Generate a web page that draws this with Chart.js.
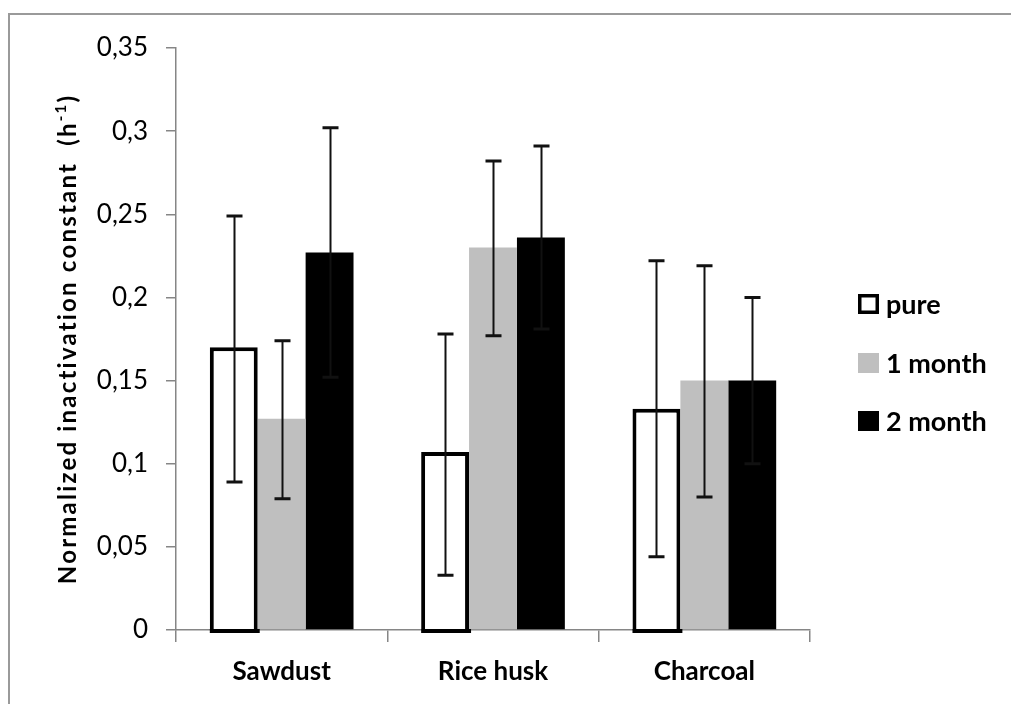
<!DOCTYPE html>
<html><head><meta charset="utf-8">
<script src="https://cdn.jsdelivr.net/npm/chart.js@4.4.1/dist/chart.umd.min.js"></script>
<style>
html,body{margin:0;padding:0;background:#fff;}
#wrap{position:relative;width:1011px;height:704px;overflow:hidden;}
canvas{position:absolute;left:0;top:0;}
</style></head>
<body><div id="wrap"><canvas id="c" width="1011" height="704"></canvas></div>
<script>
const categories = ["Sawdust", "Rice husk", "Charcoal"];
const seriesNames = ["pure", "1 month", "2 month"];
const pureValues = [0.170, 0.107, 0.133];
const oneMonthValues = [0.127, 0.230, 0.150];
const twoMonthValues = [0.227, 0.236, 0.150];
const pureErrLow = [0.089, 0.033, 0.044];
const pureErrHigh = [0.249, 0.178, 0.222];
const oneMonthErrLow = [0.079, 0.177, 0.080];
const oneMonthErrHigh = [0.174, 0.282, 0.219];
const twoMonthErrLow = [0.152, 0.181, 0.100];
const twoMonthErrHigh = [0.302, 0.291, 0.200];
const yTicks = [0, 0.05, 0.1, 0.15, 0.2, 0.25, 0.3, 0.35];
const yTitleMain = "Normalized inactivation constant  (h";
const yTitleSup = "-1";
const yTitleEnd = ")";

const FONT = "Lato";

const frame = {
  id: 'frame',
  beforeDraw(chart) {
    const ctx = chart.ctx;
    ctx.save();
    ctx.strokeStyle = '#9a9a9a';
    ctx.lineWidth = 2;
    ctx.strokeRect(9, 14, 1200, 1000);
    ctx.restore();
  }
};

const yTitle = {
  id: 'yTitle',
  afterDraw(chart) {
    const ctx = chart.ctx;
    const ca = chart.chartArea;
    ctx.save();
    const mainFont = 'bold 24px ' + FONT;
    const supFont = 'bold 15px ' + FONT;
    const sp = 2.2;
    try { ctx.letterSpacing = sp + 'px'; } catch (e) {}
    ctx.font = mainFont;
    const w1 = ctx.measureText(yTitleMain).width;
    const w3 = ctx.measureText(yTitleEnd).width;
    ctx.font = supFont;
    const w2 = ctx.measureText(yTitleSup).width;
    const total = w1 + w2 + w3;
    const cy = (ca.top + ca.bottom) / 2;
    ctx.translate(67, cy);
    ctx.rotate(-Math.PI / 2);
    ctx.fillStyle = '#000';
    ctx.textBaseline = 'middle';
    ctx.textAlign = 'left';
    let x = -total / 2;
    ctx.font = mainFont;
    ctx.fillText(yTitleMain, x, 1);
    x += w1;
    ctx.font = supFont;
    ctx.fillText(yTitleSup, x, -6);
    x += w2;
    ctx.font = mainFont;
    ctx.fillText(yTitleEnd, x, 1);
    ctx.restore();
  }
};

const errorBars = {
  id: 'errorBars',
  afterDatasetsDraw(chart) {
    const ctx = chart.ctx;
    const y = chart.scales.y;
    ctx.save();
    chart.data.datasets.forEach((ds, di) => {
      const meta = chart.getDatasetMeta(di);
      meta.data.forEach((bar, i) => {
        const lo = y.getPixelForValue(ds.errLow[i]);
        const hi = y.getPixelForValue(ds.errHigh[i]);
        const x = Math.round(bar.x) + 0.5;
        ctx.strokeStyle = '#111';
        ctx.lineWidth = 2;
        ctx.beginPath();
        ctx.moveTo(x, lo); ctx.lineTo(x, hi);
        ctx.stroke();
        ctx.lineWidth = 3;
        ctx.beginPath();
        ctx.moveTo(x - 8, hi); ctx.lineTo(x + 8, hi);
        ctx.moveTo(x - 8, lo); ctx.lineTo(x + 8, lo);
        ctx.stroke();
      });
    });
    ctx.restore();
  }
};

const sideLegend = {
  id: 'sideLegend',
  afterDraw(chart) {
    const ctx = chart.ctx;
    ctx.save();
    const ys = [304, 363, 421];
    chart.data.datasets.forEach((ds, i) => {
      const cy = ys[i];
      ctx.fillStyle = ds.backgroundColor;
      ctx.fillRect(858, cy - 10, 21, 20);
      if (ds.borderWidth > 0) {
        ctx.strokeStyle = ds.borderColor;
        ctx.lineWidth = 3.5;
        ctx.strokeRect(859.75, cy - 8.25, 17.5, 16.5);
      }
      ctx.fillStyle = '#000';
      ctx.font = 'bold 27px ' + FONT;
      ctx.textBaseline = 'middle';
      ctx.textAlign = 'left';
      ctx.fillText(ds.label, 886, cy + 1);
    });
    ctx.restore();
  }
};

const pureBottom = {
  id: 'pureBottom',
  afterDatasetsDraw(chart) {
    const ctx = chart.ctx;
    const y0 = chart.scales.y.getPixelForValue(0);
    const meta = chart.getDatasetMeta(0);
    ctx.save();
    ctx.fillStyle = chart.data.datasets[0].borderColor;
    meta.data.forEach(bar => {
      ctx.fillRect(bar.x - bar.width / 2, y0 - 1, bar.width + 2, 4);
    });
    ctx.restore();
  }
};

new Chart(document.getElementById('c'), {
  type: 'bar',
  data: {
    labels: categories,
    datasets: [
      { label: seriesNames[0], data: pureValues, errLow: pureErrLow, errHigh: pureErrHigh,
        backgroundColor: '#ffffff', borderColor: '#000000', borderWidth: 4, borderSkipped: 'bottom' },
      { label: seriesNames[1], data: oneMonthValues, errLow: oneMonthErrLow, errHigh: oneMonthErrHigh,
        backgroundColor: '#bfbfbf', borderWidth: 0 },
      { label: seriesNames[2], data: twoMonthValues, errLow: twoMonthErrLow, errHigh: twoMonthErrHigh,
        backgroundColor: '#000000', borderWidth: 0 }
    ]
  },
  options: {
    responsive: false,
    animation: false,
    devicePixelRatio: 1,
    layout: { padding: { left: 0, top: 48, right: 201, bottom: 0 } },
    datasets: { bar: { categoryPercentage: 0.68, barPercentage: 1.0 } },
    plugins: { legend: { display: false }, tooltip: { enabled: false } },
    scales: {
      x: {
        grid: { display: true, drawOnChartArea: false, drawTicks: true, tickLength: 12, color: '#868686', lineWidth: 1.5, offset: true },
        border: { display: true, color: '#868686', width: 1.5 },
        ticks: { color: '#000', font: { family: FONT, size: 26, weight: 'bold' }, padding: 14 },
        afterFit(s) { s.height = 74; }
      },
      y: {
        min: 0, max: 0.35,
        afterBuildTicks(s) { s.ticks = yTicks.map(v => ({ value: v })); },
        grid: { display: true, drawOnChartArea: false, drawTicks: true, tickLength: 10, color: '#868686', lineWidth: 1.5 },
        border: { display: true, color: '#868686', width: 1.5 },
        ticks: {
          color: '#000', padding: 18, font: { family: FONT, size: 26 },
          callback: v => String(Math.round(v * 100) / 100).replace('.', ',')
        },
        title: { display: false },
        afterFit(s) { s.width = 176; }
      }
    }
  },
  plugins: [frame, errorBars, pureBottom, yTitle, sideLegend]
});
</script></body></html>
